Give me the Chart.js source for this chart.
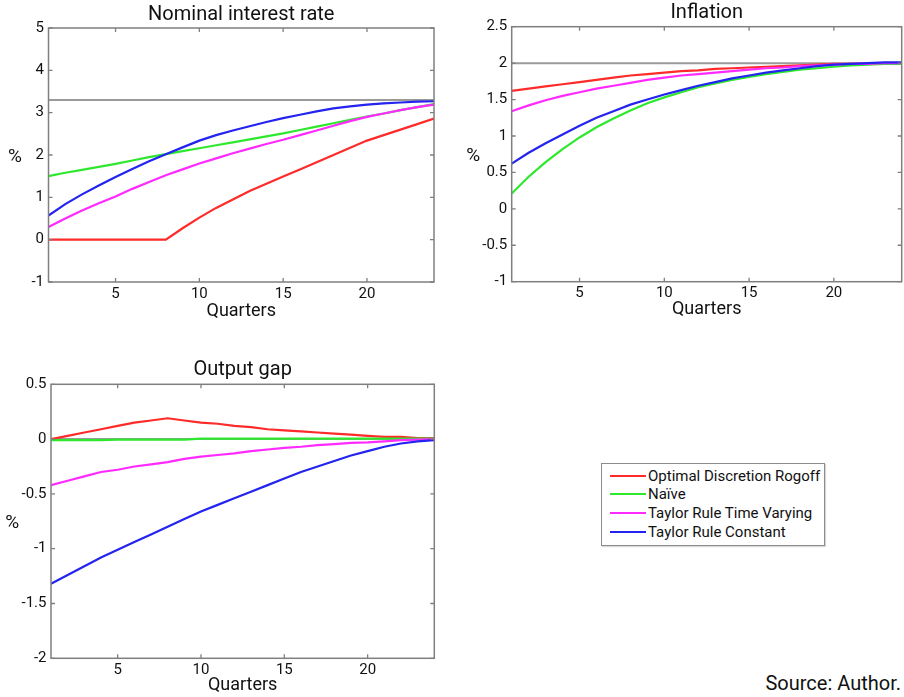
<!DOCTYPE html>
<html>
<head>
<meta charset="utf-8">
<script src="https://cdn.jsdelivr.net/npm/chart.js@4.4.1/dist/chart.umd.min.js"></script>
<style>
  html, body { margin: 0; padding: 0; background: #ffffff; }
  body { width: 904px; height: 697px; position: relative; overflow: hidden; font-family: Roboto, "Open Sans", sans-serif; color: #111; }
  .panel { position: absolute; }
  #legend { position: absolute; left: 601px; top: 463px; width: 222px; height: 81px; border: 1.5px solid #8c8c8c; box-shadow: 1px 1px 1px rgba(0,0,0,0.15); background: #fff; }
  .row { position: absolute; left: 0; height: 19px; display: flex; align-items: center; font-size: 15px; white-space: nowrap; }
  .swatch { display: inline-block; width: 36px; height: 2px; margin-left: 8px; margin-right: 2px; }
  #source { position: absolute; right: 3px; top: 671px; font-size: 20px; color: #111; }
</style>
</head>
<body>
<div class="panel" style="left:0;top:0;"><canvas id="c1" width="450" height="330"></canvas></div>
<div class="panel" style="left:452px;top:0;"><canvas id="c2" width="452" height="330"></canvas></div>
<div class="panel" style="left:0;top:355px;"><canvas id="c3" width="450" height="342"></canvas></div>
<div id="legend"></div>
<div id="source">Source: Author.</div>
<script>
// ---------------- DATA ----------------
const quarters = [1,2,3,4,5,6,7,8,9,10,11,12,13,14,15,16,17,18,19,20,21,22,23,24];
const seriesNames = ["Optimal Discretion Rogoff", "Naïve", "Taylor Rule Time Varying", "Taylor Rule Constant"];

// Nominal interest rate (%)
const nominalRogoff   = [0,0,0,0,0,0,0,0,0.27,0.52,0.75,0.95,1.15,1.32,1.49,1.66,1.83,2.0,2.17,2.34,2.47,2.6,2.73,2.86];
const nominalNaive    = [1.50,1.58,1.65,1.72,1.79,1.87,1.95,2.02,2.09,2.16,2.23,2.30,2.37,2.44,2.51,2.59,2.67,2.75,2.83,2.91,2.98,3.06,3.13,3.20];
const nominalTRVary   = [0.30,0.50,0.69,0.86,1.02,1.20,1.36,1.52,1.66,1.80,1.92,2.04,2.15,2.26,2.36,2.47,2.58,2.69,2.80,2.90,2.98,3.06,3.13,3.19];
const nominalTRConst  = [0.57,0.84,1.07,1.28,1.48,1.67,1.85,2.02,2.18,2.34,2.47,2.58,2.68,2.78,2.87,2.95,3.03,3.10,3.15,3.19,3.22,3.24,3.26,3.27];
const nominalSteady   = 3.3;

// Inflation (%)
const inflRogoff  = [1.62,1.65,1.68,1.71,1.74,1.77,1.80,1.83,1.85,1.87,1.89,1.90,1.92,1.93,1.94,1.95,1.96,1.97,1.98,1.99,1.99,1.99,1.99,2.00];
const inflNaive   = [0.21,0.44,0.64,0.82,0.98,1.12,1.24,1.35,1.45,1.53,1.60,1.67,1.72,1.77,1.81,1.85,1.88,1.91,1.93,1.95,1.97,1.98,1.99,1.99];
const inflTRVary  = [1.34,1.42,1.49,1.55,1.60,1.65,1.69,1.73,1.77,1.80,1.83,1.85,1.87,1.89,1.91,1.93,1.94,1.96,1.97,1.98,1.99,1.99,2.00,2.00];
const inflTRConst = [0.62,0.77,0.90,1.02,1.14,1.25,1.34,1.43,1.50,1.57,1.63,1.69,1.74,1.79,1.83,1.87,1.90,1.93,1.96,1.98,1.99,2.00,2.01,2.01];
const inflTarget  = 2;

// Output gap (%)
const gapRogoff  = [0,0.03,0.06,0.09,0.12,0.15,0.17,0.19,0.17,0.15,0.14,0.12,0.11,0.09,0.08,0.07,0.06,0.05,0.04,0.03,0.02,0.02,0.01,0.01];
const gapNaive   = [-0.01,-0.01,-0.01,-0.01,-0.005,-0.005,-0.005,-0.005,-0.005,0.005,0.005,0.005,0.005,0.005,0.005,0.005,0.005,0.005,0.005,0.005,0.005,0.005,0.005,0.005];
const gapTRVary  = [-0.42,-0.38,-0.34,-0.30,-0.28,-0.25,-0.23,-0.21,-0.18,-0.16,-0.145,-0.13,-0.11,-0.095,-0.08,-0.07,-0.055,-0.045,-0.035,-0.03,-0.02,-0.01,-0.005,0];
const gapTRConst = [-1.32,-1.24,-1.16,-1.08,-1.01,-0.94,-0.87,-0.80,-0.73,-0.66,-0.60,-0.54,-0.48,-0.42,-0.36,-0.30,-0.25,-0.20,-0.15,-0.11,-0.07,-0.04,-0.02,-0.01];
const gapSteady  = 0;

// Tick labels
const xTickValues      = [5, 10, 15, 20];
const nominalYTicks    = [-1, 0, 1, 2, 3, 4, 5];
const inflationYTicks  = [-1, -0.5, 0, 0.5, 1, 1.5, 2, 2.5];
const outputYTicks     = [-2, -1.5, -1, -0.5, 0, 0.5];

// ---------------- STYLE ----------------
const seriesColors = ["#ff2a2a", "#2ee82e", "#ff2aff", "#2424f0"];
const refColor = "#9a9a9a";
const frameColor = "#7f7f7f";
const FONT = "Roboto, 'Open Sans', sans-serif";

// legend (HTML)
const legendEl = document.getElementById('legend');
seriesNames.forEach((n, i) => {
  const row = document.createElement('div');
  row.className = 'row';
  row.style.top = (2 + i * 18.9) + 'px';
  const sw = document.createElement('span');
  sw.className = 'swatch';
  sw.style.background = seriesColors[i];
  const tx = document.createElement('span');
  tx.textContent = n;
  row.appendChild(sw); row.appendChild(tx);
  legendEl.appendChild(row);
});

// plugin: MATLAB-like frame, inner ticks, horizontal "%" label
const matlabFrame = {
  id: 'matlabFrame',
  afterDatasetsDraw(chart, args, opts) {
    const {ctx, chartArea: a} = chart;
    const xs = chart.scales.x, ys = chart.scales.y;
    ctx.save();
    ctx.strokeStyle = frameColor;
    ctx.lineWidth = 1.3;
    const tl = 4;
    ctx.beginPath();
    xs.ticks.forEach(t => {
      const px = xs.getPixelForValue(t.value);
      ctx.moveTo(px, a.bottom); ctx.lineTo(px, a.bottom - tl);
      ctx.moveTo(px, a.top); ctx.lineTo(px, a.top + tl);
    });
    ys.ticks.forEach(t => {
      const py = ys.getPixelForValue(t.value);
      ctx.moveTo(a.left, py); ctx.lineTo(a.left + tl, py);
      ctx.moveTo(a.right, py); ctx.lineTo(a.right - tl, py);
    });
    ctx.stroke();
    ctx.lineWidth = 1.5;
    ctx.strokeRect(a.left, a.top, a.right - a.left, a.bottom - a.top);
    // horizontal y label
    ctx.fillStyle = '#111';
    ctx.font = "19px " + FONT;
    ctx.textAlign = 'center';
    ctx.textBaseline = 'middle';
    ctx.fillText(opts.yLabel, a.left - opts.yLabelOffset, (a.top + a.bottom) / 2 + 2);
    ctx.restore();
  }
};

function pts(arr) { return quarters.map((q, i) => ({x: q, y: arr[i]})); }

function makeChart(id, title, yMin, yMax, yTicks, series, refValue, L) {
  const datasets = series.map((arr, i) => ({
    label: seriesNames[i],
    data: pts(arr),
    borderColor: seriesColors[i],
    borderWidth: 2.2,
    pointRadius: 0,
    tension: 0,
    fill: false,
    order: 4 - i
  }));
  datasets.push({
    label: 'reference',
    data: [{x: quarters[0], y: refValue}, {x: quarters[quarters.length - 1], y: refValue}],
    borderColor: refColor,
    borderWidth: 2,
    pointRadius: 0,
    order: 10
  });
  return new Chart(document.getElementById(id), {
    type: 'line',
    data: {datasets},
    plugins: [matlabFrame],
    options: {
      responsive: false,
      animation: false,
      events: [],
      layout: {padding: {left: 0, right: L.padRight, top: 0, bottom: 0}},
      plugins: {
        legend: {display: false},
        tooltip: {enabled: false},
        title: {
          display: true, text: title, fullSize: false,
          color: '#111',
          font: {family: FONT, size: 20, weight: 'normal'},
          padding: {top: L.titleTop, bottom: L.titleBottom}
        },
        matlabFrame: {yLabel: '%', yLabelOffset: L.pctOffset}
      },
      scales: {
        x: {
          type: 'linear', min: quarters[0], max: quarters[quarters.length - 1],
          grid: {display: false, drawTicks: false},
          border: {display: false},
          afterBuildTicks: s => { s.ticks = xTickValues.map(v => ({value: v})); },
          afterFit: s => { s.height = L.xHeight; },
          ticks: {color: '#111', padding: 3, font: {family: FONT, size: 15}, callback: v => String(v), maxRotation: 0},
          title: {display: true, text: 'Quarters', color: '#111', font: {family: FONT, size: 18}, padding: {top: 0, bottom: L.qPad}}
        },
        y: {
          type: 'linear', min: yMin, max: yMax,
          grid: {display: false, drawTicks: false},
          border: {display: false},
          afterBuildTicks: s => { s.ticks = yTicks.map(v => ({value: v})); },
          afterFit: s => { s.width = L.yWidth; },
          ticks: {color: '#111', padding: 4.5, font: {family: FONT, size: 15}, callback: v => String(v)}
        }
      }
    }
  });
}

makeChart('c1', 'Nominal interest rate', -1, 5, nominalYTicks,
  [nominalRogoff, nominalNaive, nominalTRVary, nominalTRConst], nominalSteady,
  {padRight: 16, yWidth: 48.5, xHeight: 48, titleTop: 3, titleBottom: 1, pctOffset: 33.5, qPad: 7.5});

makeChart('c2', 'Inflation', -1, 2.5, inflationYTicks,
  [inflRogoff, inflNaive, inflTRVary, inflTRConst], inflTarget,
  {padRight: 2.3, yWidth: 59.7, xHeight: 48.3, titleTop: 1.3, titleBottom: 1.4, pctOffset: 38.4, qPad: 9.9});

makeChart('c3', 'Output gap', -2, 0.5, outputYTicks,
  [gapRogoff, gapNaive, gapTRVary, gapTRConst], gapSteady,
  {padRight: 15.7, yWidth: 51, xHeight: 38.7, titleTop: 3, titleBottom: 2.3, pctOffset: 38.7, qPad: 1.2});
</script>
</body>
</html>
